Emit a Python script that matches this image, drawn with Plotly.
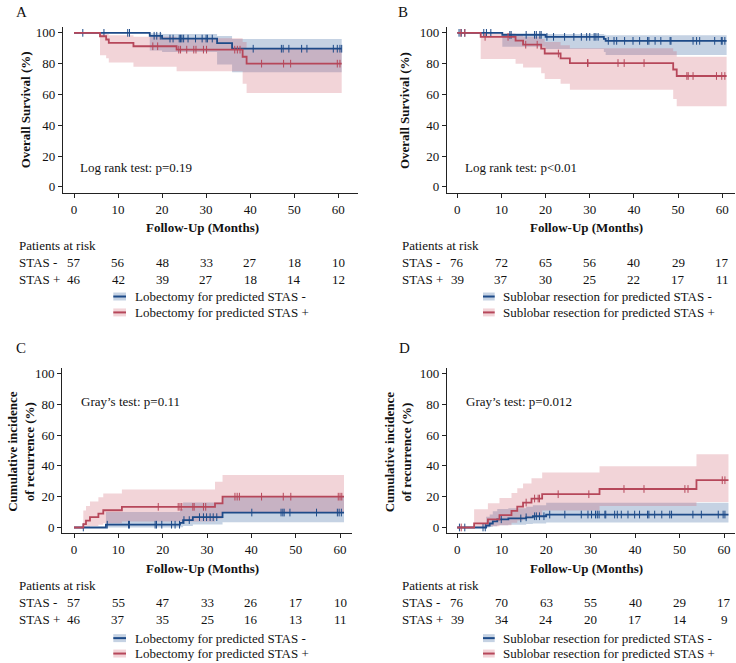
import plotly.graph_objects as go

W, H = 736, 663
FONT = "Liberation Serif"
BLUE = "#1d4a88"
RED = "#b6475a"
BLUE_BAND = "rgba(45,95,155,0.28)"
RED_BAND = "rgba(205,90,105,0.26)"

# ---------------- Panel A: OS, lobectomy ----------------
A_neg_t = [0, 17.2, 20.0, 32.5, 35.9, 60.8]
A_neg_s = [100, 98.1, 96.3, 93.3, 89.7, 89.7]
A_neg_lo = [100, 88.5, 87.5, 79.5, 74.5, 74.5]
A_neg_hi = [100, 99.8, 99.2, 98.0, 96.0, 96.0]
A_neg_cens = [2.0, 6.8, 12.2, 12.6, 18.2, 18.8, 19.6, 21.8, 22.5, 23.9, 24.2, 24.5, 24.9, 25.9,
              27.6, 29.1, 30.0, 30.3, 31.4, 40.7, 47.1, 47.5, 48.8, 51.7, 52.9, 58.9, 59.8, 60.4, 60.8]
A_pos_t = [0, 5.9, 7.3, 7.9, 13.5, 23.3, 38.3, 39.2, 60.8]
A_pos_s = [100, 97.8, 95.7, 93.5, 91.3, 89.1, 84.5, 80.0, 80.0]
A_pos_lo = [100, 85.5, 83.5, 80.7, 78.0, 75.0, 67.0, 61.0, 61.0]
A_pos_hi = [100, 99.7, 99.4, 98.5, 97.5, 96.5, 94.0, 90.0, 90.0]
A_pos_cens = [17.9, 19.0, 23.8, 24.2, 25.6, 27.2, 27.7, 29.4, 30.1, 36.5, 37.1, 37.7, 42.6, 47.6,
              49.2, 59.8, 60.4]

# ---------------- Panel B: OS, sublobar ----------------
B_neg_t = [0, 10.2, 20.0, 33.2, 33.6, 61.0]
B_neg_s = [100, 98.7, 97.4, 96.1, 94.8, 94.8]
B_neg_lo = [100, 91.0, 89.5, 87.5, 85.6, 85.6]
B_neg_hi = [100, 99.8, 99.3, 98.8, 98.4, 98.4]
B_neg_cens = [0.4, 0.9, 1.7, 6.0, 6.6, 7.6, 11.9, 12.2, 15.6, 17.5, 17.9, 18.7, 19.0, 20.3, 21.8,
              24.3, 26.4, 28.1, 29.3, 30.0, 31.0, 31.4, 31.9, 34.2, 35.5, 36.1, 37.9, 39.8, 41.3,
              43.1, 43.4, 44.8, 46.1, 48.2, 48.4, 53.4, 54.2, 54.9, 58.3, 59.8, 60.0, 60.6]
B_pos_t = [0, 5.3, 13.2, 14.9, 19.0, 19.8, 23.4, 25.5, 48.9, 49.7, 61.0]
B_pos_s = [100, 97.4, 94.9, 92.3, 89.7, 86.6, 83.4, 80.4, 76.2, 72.0, 72.0]
B_pos_lo = [100, 83.0, 80.0, 77.5, 73.8, 70.0, 67.0, 63.0, 57.0, 52.3, 52.3]
B_pos_hi = [100, 99.6, 98.7, 97.5, 96.0, 94.0, 92.0, 90.0, 88.0, 84.5, 84.5]
B_pos_cens = [0.8, 1.7, 6.3, 11.5, 15.5, 18.1, 22.9, 29.5, 29.6, 36.4, 37.8, 42.3, 52.0, 52.3,
              53.4, 58.7, 59.9, 60.6]

# ---------------- Panel C: recurrence, lobectomy ----------------
C_neg_t = [0, 7.2, 23.9, 24.6, 26.8, 33.5, 60.9]
C_neg_s = [0, 1.8, 3.0, 4.8, 6.7, 9.7, 9.7]
C_neg_lo = [0, 0, 0.2, 1.0, 2.0, 3.4, 3.4]
C_neg_hi = [0, 10.0, 12.0, 16.3, 16.3, 20.0, 20.0]
C_neg_cens = [2.1, 7.5, 12.3, 12.5, 18.3, 18.6, 19.8, 22.0, 22.8, 23.8, 24.8, 26.0, 28.3, 29.2,
              29.9, 30.7, 31.4, 32.2, 40.1, 46.7, 47.1, 47.4, 48.7, 54.7, 59.4, 59.8, 60.3]
C_pos_t = [0, 2.1, 2.7, 3.6, 5.5, 6.6, 10.8, 31.8, 33.5, 60.9]
C_pos_s = [0, 2.2, 4.4, 6.7, 9.0, 11.2, 13.4, 15.7, 20.0, 20.0]
C_pos_lo = [0, 0, 0.5, 1.0, 1.8, 2.8, 3.9, 5.6, 10.0, 10.0]
C_pos_hi = [0, 11.0, 14.0, 16.8, 19.6, 22.0, 24.7, 29.7, 34.0, 34.0]
C_pos_cens = [19.0, 23.5, 23.9, 24.3, 26.8, 27.1, 29.2, 29.7, 36.3, 36.8, 37.3, 42.3, 47.2, 48.9,
              59.6, 60.0, 60.4]

# ---------------- Panel D: recurrence, sublobar ----------------
D_neg_t = [0, 6.5, 7.3, 8.0, 9.0, 11.5, 15.5, 17.0, 20.0, 61.0]
D_neg_s = [0, 1.3, 2.6, 4.0, 5.3, 5.9, 6.6, 7.3, 8.4, 8.4]
D_neg_lo = [0, 0, 0.3, 0.8, 1.5, 1.8, 2.2, 2.6, 3.2, 3.2]
D_neg_hi = [0, 7.0, 8.5, 10.5, 12.0, 12.5, 13.5, 14.5, 16.0, 16.0]
D_neg_cens = [0.5, 1.7, 5.8, 6.3, 9.9, 14.3, 15.5, 17.4, 17.8, 18.5, 19.5, 20.8, 24.2, 27.9, 29.4,
              30.2, 31.1, 31.5, 31.9, 33.2, 33.4, 35.4, 36.0, 36.9, 38.4, 39.9, 41.0, 42.8, 43.1,
              44.4, 46.0, 47.8, 48.2, 53.0, 54.9, 58.7, 59.8, 60.2]
D_pos_t = [0, 3.8, 6.9, 9.5, 12.2, 13.5, 14.8, 16.7, 19.1, 32.0, 53.8, 61.0]
D_pos_s = [0, 2.7, 5.3, 8.0, 10.8, 13.5, 16.2, 18.8, 21.6, 25.0, 30.7, 30.7]
D_pos_lo = [0, 0, 0.8, 1.5, 3.0, 4.5, 6.0, 8.0, 11.0, 14.0, 16.5, 16.5]
D_pos_hi = [0, 11.8, 15.7, 19.1, 22.4, 25.4, 28.6, 32.0, 35.7, 39.8, 47.5, 47.5]
D_pos_cens = [0.9, 15.5, 17.4, 18.2, 18.5, 22.7, 29.6, 37.5, 42.0, 51.2, 51.9, 59.6, 60.2]

# ---------------- Risk tables & labels ----------------
risk_times = [0, 10, 20, 30, 40, 50, 60]
A_risk_neg = [57, 56, 48, 33, 27, 18, 10]
A_risk_pos = [46, 42, 39, 27, 18, 14, 12]
B_risk_neg = [76, 72, 65, 56, 40, 29, 17]
B_risk_pos = [39, 37, 30, 25, 22, 17, 11]
C_risk_neg = [57, 55, 47, 33, 26, 17, 10]
C_risk_pos = [46, 37, 35, 25, 16, 13, 11]
D_risk_neg = [76, 70, 63, 55, 40, 29, 17]
D_risk_pos = [39, 34, 24, 20, 17, 14, 9]

x_ticks = [0, 10, 20, 30, 40, 50, 60]
y_ticks = [0, 20, 40, 60, 80, 100]

panel_letters = ["A", "B", "C", "D"]
y_titles = ["Overall Survival (%)", "Overall Survival (%)",
            "Cumulative incidence<br>of recurrence (%)", "Cumulative incidence<br>of recurrence (%)"]
x_title = "Follow-Up (Months)"
stat_texts = ["Log rank test: p=0.19", "Log rank test: p<0.01",
              "Gray\u2019s test: p=0.11", "Gray\u2019s test: p=0.012"]
legend_neg = ["Lobectomy for predicted STAS -", "Sublobar resection for predicted STAS -",
              "Lobectomy for predicted STAS -", "Sublobar resection for predicted STAS -"]
legend_pos = ["Lobectomy for predicted STAS +", "Sublobar resection for predicted STAS +",
              "Lobectomy for predicted STAS +", "Sublobar resection for predicted STAS +"]


def px(x):
    return x / W


def py(y):
    return 1 - y / H


def step_at(t, s, c):
    v = s[0]
    for ti, si in zip(t, s):
        if ti <= c:
            v = si
        else:
            break
    return v


fig = go.Figure()


def add_band(xa, ya, t, lo, hi, band):
    fig.add_trace(go.Scatter(x=t, y=hi, xaxis=xa, yaxis=ya, mode="lines",
                             line=dict(width=0, shape="hv", color=band),
                             hoverinfo="skip", showlegend=False))
    fig.add_trace(go.Scatter(x=t, y=lo, xaxis=xa, yaxis=ya, mode="lines",
                             line=dict(width=0, shape="hv", color=band),
                             fill="tonexty", fillcolor=band,
                             hoverinfo="skip", showlegend=False))


def add_curve(xa, ya, t, s, cens, color):
    fig.add_trace(go.Scatter(x=t, y=s, xaxis=xa, yaxis=ya, mode="lines",
                             line=dict(width=1.8, shape="hv", color=color),
                             showlegend=False))
    fig.add_trace(go.Scatter(x=cens, y=[step_at(t, s, c) for c in cens], xaxis=xa, yaxis=ya,
                             mode="markers",
                             marker=dict(symbol="line-ns", size=5.5, color=color,
                                         line=dict(width=1, color=color)),
                             showlegend=False))


panels = [
    ("x", "y", A_neg_t, A_neg_s, A_neg_lo, A_neg_hi, A_neg_cens,
     A_pos_t, A_pos_s, A_pos_lo, A_pos_hi, A_pos_cens),
    ("x2", "y2", B_neg_t, B_neg_s, B_neg_lo, B_neg_hi, B_neg_cens,
     B_pos_t, B_pos_s, B_pos_lo, B_pos_hi, B_pos_cens),
    ("x3", "y3", C_neg_t, C_neg_s, C_neg_lo, C_neg_hi, C_neg_cens,
     C_pos_t, C_pos_s, C_pos_lo, C_pos_hi, C_pos_cens),
    ("x4", "y4", D_neg_t, D_neg_s, D_neg_lo, D_neg_hi, D_neg_cens,
     D_pos_t, D_pos_s, D_pos_lo, D_pos_hi, D_pos_cens),
]

for (xa, ya, nt, ns, nlo, nhi, nc, pt, ps, plo, phi, pc) in panels:
    add_band(xa, ya, nt, nlo, nhi, BLUE_BAND)
    add_band(xa, ya, pt, plo, phi, RED_BAND)
    add_curve(xa, ya, nt, ns, nc, BLUE)
    add_curve(xa, ya, pt, ps, pc, RED)

# ---------------- Layout geometry (pixels) ----------------
# (x_left, x_right, x_range, y_top, y_bottom, y_range)
geo = [
    (63, 358, [-2.5, 64.5], 25, 192, [-3.87, 103.9]),
    (447, 735, [-2.33, 62.9], 25, 192, [-3.87, 103.9]),
    (62.3, 352, [-2.64, 62.7], 368.3, 534.3, [-3.63, 103.5]),
    (447, 734.7, [-2.3, 62.4], 368.3, 534.3, [-3.63, 103.5]),
]

axis_common = dict(showline=True, linecolor="#222", linewidth=1.3, ticks="outside",
                   ticklen=4, tickwidth=1.2, tickcolor="#222", showgrid=False, zeroline=False,
                   tickfont=dict(family=FONT, size=13, color="#111"), fixedrange=True)

layout = dict(width=W, height=H, margin=dict(l=0, r=0, t=0, b=0),
              plot_bgcolor="white", paper_bgcolor="white", showlegend=False,
              font=dict(family=FONT, size=13, color="#111"))

for i, (xl, xr, xrng, yt, yb, yrng) in enumerate(geo):
    sfx = "" if i == 0 else str(i + 1)
    layout["xaxis" + sfx] = dict(domain=[px(xl), px(xr)], range=xrng, anchor="y" + sfx,
                                 tickvals=x_ticks, **axis_common)
    layout["yaxis" + sfx] = dict(domain=[py(yb), py(yt)], range=yrng, anchor="x" + sfx,
                                 tickvals=y_ticks, **axis_common)

fig.update_layout(**layout)

ann = []
shapes = []


def text(x, y, s, xanchor="left", size=13, bold=False, angle=0, xref="paper"):
    ann.append(dict(x=x if xref != "paper" else px(x), y=py(y), xref=xref, yref="paper",
                    text=("<b>%s</b>" % s) if bold else s, showarrow=False,
                    xanchor=xanchor, yanchor="middle", textangle=angle,
                    font=dict(family=FONT, size=size, color="#111")))


# per-panel text positions (pixels)
letter_pos = [(21.7, 10), (403, 10), (20.7, 348.3), (404, 348.3)]
ytitle_pos = [(25, 109), (404.7, 109), (21.5, 453), (398, 453)]
xtitle_pos = [(202, 227), (586, 227), (202, 570), (586, 570)]
stat_pos = [(78.3, 166.7), (463, 166.7), (78.7, 402.3), (464, 402.3)]
risk_left = [16.7, 400.3, 16.7, 400.3]
risk_y = [(245, 262.3, 279.3), (245, 262.3, 279.3), (586.7, 604.5, 621.5), (586.7, 604.5, 621.5)]
leg_x = [(113.3, 126, 132.7), (483, 494.7, 501.3), (113.3, 126, 132.7), (483, 494.7, 501.3)]
leg_y = [(296.3, 312.3), (296.3, 312.3), (640, 655.5), (640, 655.5)]
risk_tables = [(A_risk_neg, A_risk_pos), (B_risk_neg, B_risk_pos),
               (C_risk_neg, C_risk_pos), (D_risk_neg, D_risk_pos)]
xrefs = ["x", "x2", "x3", "x4"]

for i in range(4):
    text(*letter_pos[i], panel_letters[i], xanchor="center", size=15)
    text(*ytitle_pos[i], y_titles[i], xanchor="center", bold=True, angle=-90)
    text(*xtitle_pos[i], x_title, xanchor="center", bold=True)
    text(*stat_pos[i], stat_texts[i])
    ry0, ry1, ry2 = risk_y[i]
    text(risk_left[i], ry0, "Patients at risk")
    text(risk_left[i], ry1, "STAS -")
    text(risk_left[i], ry2, "STAS +")
    neg, pos = risk_tables[i]
    for tv, a, b in zip(risk_times, neg, pos):
        text(tv, ry1, str(a), xanchor="center", xref=xrefs[i])
        text(tv, ry2, str(b), xanchor="center", xref=xrefs[i])
    lx0, lx1, ltx = leg_x[i]
    for ly, lab, col, band in [(leg_y[i][0], legend_neg[i], BLUE, BLUE_BAND),
                               (leg_y[i][1], legend_pos[i], RED, RED_BAND)]:
        shapes.append(dict(type="rect", xref="paper", yref="paper", x0=px(lx0), x1=px(lx1),
                           y0=py(ly + 4), y1=py(ly - 4), fillcolor=band, line=dict(width=0)))
        shapes.append(dict(type="line", xref="paper", yref="paper", x0=px(lx0), x1=px(lx1),
                           y0=py(ly), y1=py(ly), line=dict(color=col, width=2)))
        text(ltx, ly, lab)

fig.update_layout(annotations=ann, shapes=shapes)
fig.write_html("out.html", config={"displayModeBar": False},
               post_script="document.body.style.margin='0';document.body.style.overflow='hidden';")
